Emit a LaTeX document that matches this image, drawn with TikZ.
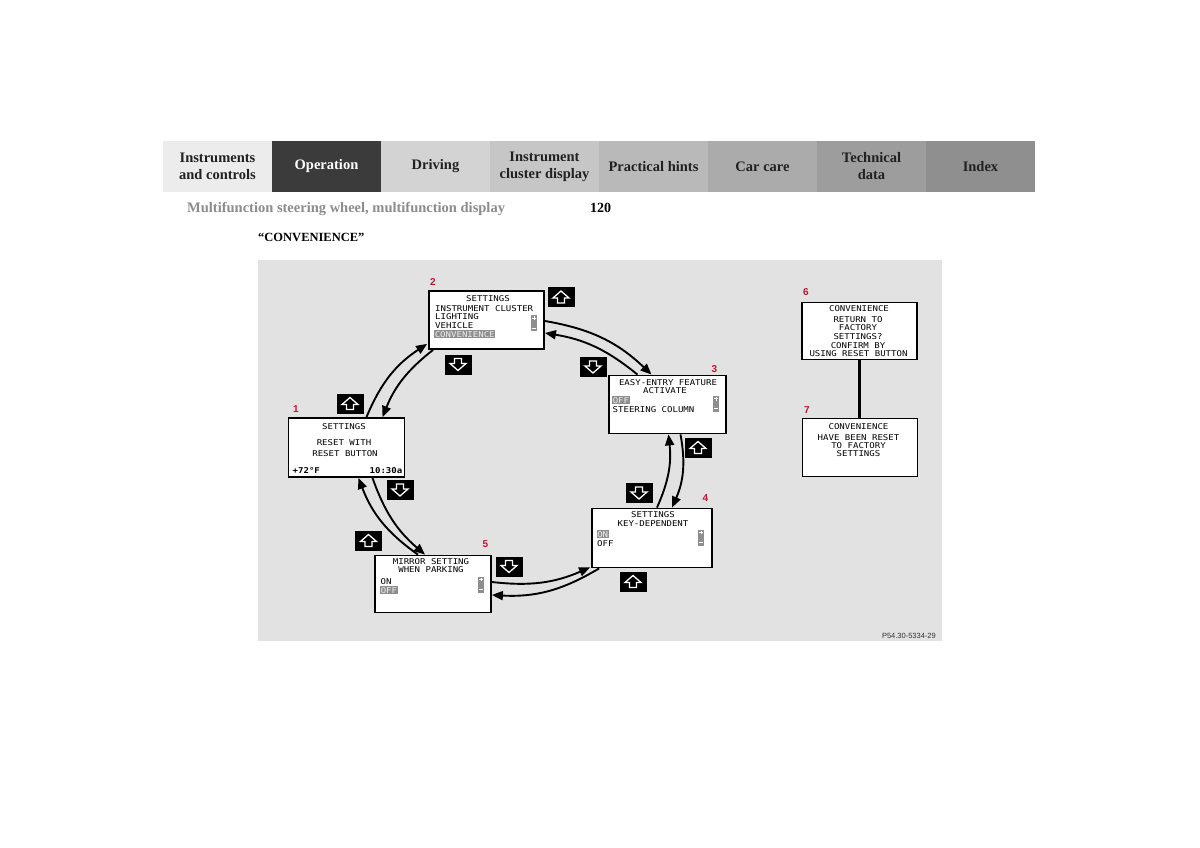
\documentclass[tikz,border=0pt]{standalone}
\usepackage{fontspec}
\setmainfont{Liberation Serif}
\newfontfamily\lcd[FakeStretch=1.13]{DejaVu Sans Mono}
\newfontfamily\numfont{Liberation Sans}
\usepackage{xcolor}
\usepackage{tikz}
\usetikzlibrary{arrows.meta, calc}

\definecolor{panel}{HTML}{E2E2E2}
\definecolor{numred}{HTML}{C8102E}
\definecolor{subgray}{HTML}{8C8C8C}
\definecolor{hlgray}{HTML}{8E8E8E}
\definecolor{hltext}{HTML}{EDEDED}
\definecolor{tabA}{HTML}{ECECEC}
\definecolor{tabB}{HTML}{3B3B3B}
\definecolor{tabC}{HTML}{D3D3D3}
\definecolor{tabD}{HTML}{C6C6C6}
\definecolor{tabE}{HTML}{B9B9B9}
\definecolor{tabF}{HTML}{ABABAB}
\definecolor{tabG}{HTML}{9D9D9D}
\definecolor{tabH}{HTML}{8F8F8F}

\begin{document}
\begin{tikzpicture}[x=1pt, y=-1pt,
	tab/.style={minimum width=109pt, minimum height=51pt, inner sep=0pt, align=center,
		text=black!87, font=\bfseries\fontsize{14.5}{17}\selectfont},
	screen/.style 2 args={draw, line width=1.8pt, fill=white, inner sep=0pt,
		minimum width=#1pt, minimum height=#2pt},
	lcdtext/.style={inner sep=0pt, font=\lcd\fontsize{8}{8}\selectfont},
	hl/.style={lcdtext, fill=hlgray, text=hltext, inner xsep=0.6pt, inner ysep=0.9pt},
	num/.style={inner sep=0pt, anchor=base west, text=numred, font=\numfont\bfseries\fontsize{10}{10}\selectfont},
	scrollbar/.style={fill=hlgray, minimum width=6pt, minimum height=16pt, inner sep=0pt,
		path picture={\draw[white, line width=0.6pt, shift={(path picture bounding box.center)}]
			(-1.8,-5) -- (1.8,-5) (0,-6.8) -- (0,-3.2) (-1.8,5) -- (1.8,5);}},
	keybox/.style={fill=black, minimum width=27pt, minimum height=20pt, inner sep=0pt},
	upkey/.style={keybox, path picture={\draw[white, line width=1.3pt, shift={(path picture bounding box.center)}]
			(-3.5,6) -- (-3.5,1) -- (-8,1) -- (0,-6) -- (8,1) -- (3.5,1) -- (3.5,6) -- cycle;}},
	downkey/.style={keybox, path picture={\draw[white, line width=1.3pt, shift={(path picture bounding box.center)}]
			(-3.5,-6) -- (-3.5,-1) -- (-8,-1) -- (0,6) -- (8,-1) -- (3.5,-1) -- (3.5,-6) -- cycle;}},
	cyc/.style={line width=1.9pt, -{Triangle[length=11pt, width=9pt]}},
]
	\useasboundingbox (0,0) rectangle (1200,848);
	\fill[white] (0,0) rectangle (1200,848);

	% Header tabs:
	\node[tab, fill=tabA] (H1) at (217.5,166.5) {Instruments\\and controls};
	\node[tab, fill=tabB, text=white] (H2) at (326.5,166.5) {Operation};
	\node[tab, fill=tabC] (H3) at (435.5,166.5) {Driving};
	\node[tab, fill=tabD] (H4) at (544.5,166.5) {Instrument\\cluster display};
	\node[tab, fill=tabE] (H5) at (653.5,166.5) {Practical hints};
	\node[tab, fill=tabF] (H6) at (762.5,166.5) {Car care};
	\node[tab, fill=tabG] (H7) at (871.5,166.5) {Technical\\data};
	\node[tab, fill=tabH] (H8) at (980.5,166.5) {Index};

	\node[anchor=base west, inner sep=0pt, text=subgray, font=\bfseries\fontsize{14.5}{17}\selectfont] (P1) at (187,212) {Multifunction steering wheel, multifunction display};
	\node[anchor=base west, inner sep=0pt, font=\bfseries\fontsize{14}{17}\selectfont] (P2) at (590,212) {120};
	\node[anchor=base west, inner sep=0pt, font=\bfseries\fontsize{12.5}{14}\selectfont] (P3) at (258,241) {“CONVENIENCE”};

	% Panel and screens:
	\fill[panel] (258,260) rectangle (942,641);
	\node[screen={116}{59}] (S1) at (346.5,447.5) {};
	\node[screen={115}{58}] (S2) at (486.5,320) {};
	\node[screen={117}{58}] (S3) at (667.5,404.5) {};
	\node[screen={120}{59}] (S4) at (652,538) {};
	\node[screen={116}{57}] (S5) at (433,584) {};
	\node[screen={115}{57}] (S6) at (859.5,331) {};
	\node[screen={115}{58}] (S7) at (860,447.5) {};
	\draw[line width=2.2pt] (S6.south) -- (S6.south |- S7.north);

	\node[num] (N1) at (293,412) {1};
	\node[num] (N2) at (430,285) {2};
	\node[num] (N3) at (711.5,372.5) {3};
	\node[num] (N4) at (702.5,501) {4};
	\node[num] (N5) at (482.5,547) {5};
	\node[num] (N6) at (803,295) {6};
	\node[num] (N7) at (804,413) {7};

	% Screen texts:
	\node[lcdtext, anchor=base] (L11) at (344,429.3) {SETTINGS};
	\node[lcdtext, anchor=base] (L12) at (344,445) {RESET WITH};
	\node[lcdtext, anchor=base] (L13) at (345,456.7) {RESET BUTTON};
	\node[lcdtext, anchor=base west, font=\lcd\bfseries\fontsize{8}{8}\selectfont] (L14) at (292.5,473.3) {+72°F};
	\node[lcdtext, anchor=base east, font=\lcd\bfseries\fontsize{8}{8}\selectfont] (L15) at (402.5,473.3) {10:30a};

	\node[lcdtext, anchor=base] (L21) at (488,301) {SETTINGS};
	\node[lcdtext, anchor=base west] (L22) at (435,311) {INSTRUMENT CLUSTER};
	\node[lcdtext, anchor=base west] (L23) at (435,319.5) {LIGHTING};
	\node[lcdtext, anchor=base west] (L24) at (435,328) {VEHICLE};
	\node[hl, anchor=base west] (L25) at (434,337) {CONVENIENCE};
	\node[scrollbar] (B2) at (534,323) {};

	\node[lcdtext, anchor=base] (L31) at (668,385) {EASY-ENTRY FEATURE};
	\node[lcdtext, anchor=base] (L32) at (665,393.3) {ACTIVATE};
	\node[hl, anchor=base west] (L33) at (612,403) {OFF};
	\node[lcdtext, anchor=base west] (L34) at (612.5,412.3) {STEERING COLUMN};
	\node[scrollbar] (B3) at (716,403.7) {};

	\node[lcdtext, anchor=base] (L41) at (653,517.7) {SETTINGS};
	\node[lcdtext, anchor=base] (L42) at (653,526.7) {KEY-DEPENDENT};
	\node[hl, anchor=base west] (L43) at (596.5,537) {ON};
	\node[lcdtext, anchor=base west] (L44) at (597,546.7) {OFF};
	\node[scrollbar] (B4) at (701,537.5) {};

	\node[lcdtext, anchor=base] (L51) at (431,564.3) {MIRROR SETTING};
	\node[lcdtext, anchor=base] (L52) at (431,572.3) {WHEN PARKING};
	\node[lcdtext, anchor=base west] (L53) at (380.5,584.3) {ON};
	\node[hl, anchor=base west] (L54) at (380,593) {OFF};
	\node[scrollbar] (B5) at (481,584.5) {};

	\node[lcdtext, anchor=base] (L61) at (859,311.7) {CONVENIENCE};
	\node[lcdtext, anchor=base] (L62) at (858,322.3) {RETURN TO};
	\node[lcdtext, anchor=base] (L63) at (858,330.6) {FACTORY};
	\node[lcdtext, anchor=base] (L64) at (858,339.3) {SETTINGS?};
	\node[lcdtext, anchor=base] (L65) at (858,348.3) {CONFIRM BY};
	\node[lcdtext, anchor=base] (L66) at (858.5,356.7) {USING RESET BUTTON};

	\node[lcdtext, anchor=base] (L71) at (858.5,429.3) {CONVENIENCE};
	\node[lcdtext, anchor=base] (L72) at (858.5,440) {HAVE BEEN RESET};
	\node[lcdtext, anchor=base] (L73) at (858.5,448.3) {TO FACTORY};
	\node[lcdtext, anchor=base] (L74) at (858.5,456.7) {SETTINGS};

	% Keys:
	\node[upkey] (K1) at (561,297) {};
	\node[downkey] (K2) at (458,364.5) {};
	\node[downkey] (K3) at (593,367) {};
	\node[upkey] (K4) at (350,403.5) {};
	\node[downkey] (K5) at (400,490) {};
	\node[upkey] (K6) at (698,447.5) {};
	\node[downkey] (K7) at (639,493) {};
	\node[upkey] (K8) at (633,581.5) {};
	\node[upkey] (K9) at (368.5,540.5) {};
	\node[downkey] (K10) at (509,566.5) {};

	% Cycle arrows, outer clockwise, inner back:
	\draw[cyc] ($(S1.north)+(20,0)$) to[bend left=17] ($(S2.south west)+(-1,-6)$);
	\draw[cyc] ($(S2.south west)+(5,0)$) to[bend right=15] ($(S1.north)+(36,0)$);
	\draw[cyc] ($(S2.east)+(0,1)$) to[bend left=17] ($(S3.north)+(-16,0)$);
	\draw[cyc] ($(S3.north)+(-30,0)$) to[bend right=15] ($(S2.east)+(0,13)$);
	\draw[cyc] ($(S3.south)+(13,0)$) to[bend left=17] ($(S4.north)+(20,0)$);
	\draw[cyc] ($(S4.north)+(5,0)$) to[bend right=15] ($(S3.south)+(1,0)$);
	\draw[cyc] ($(S4.south west)+(8,0)$) to[bend left=17] ($(S5.east)+(0,11)$);
	\draw[cyc] ($(S5.east)+(0,-2)$) to[bend right=15] ($(S4.south west)+(-1,-1)$);
	\draw[cyc] ($(S5.north)+(-15,0)$) to[bend left=17] ($(S1.south)+(12,0)$);
	\draw[cyc] ($(S1.south)+(26,0)$) to[bend right=15] ($(S5.north)+(-8,0)$);

	\node[anchor=base east, inner sep=0pt, text=black!80, font=\numfont\fontsize{7.5}{8}\selectfont] (R1) at (936,638) {P54.30-5334-29};
\end{tikzpicture}
\end{document}
